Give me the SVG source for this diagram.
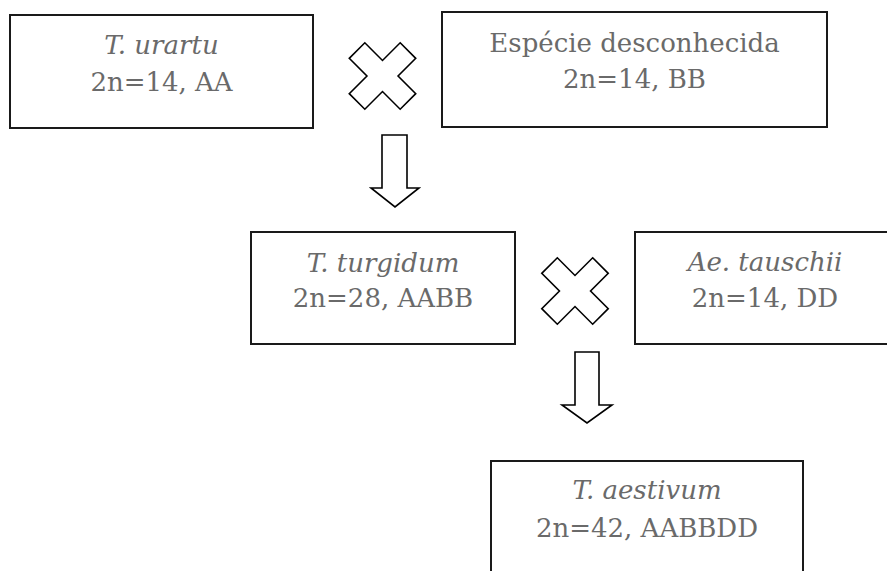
<svg xmlns="http://www.w3.org/2000/svg" width="887" height="571" viewBox="0 0 887 571">
<style>
  .box { fill: #ffffff; stroke: #1a1a1a; stroke-width: 2; }
  .sym { fill: #ffffff; stroke: #000000; stroke-width: 1.6; stroke-linejoin: miter; }
  text { font-family: "DejaVu Serif", "Liberation Serif", serif; font-size: 26px; fill: #6a6a6a; text-anchor: middle; }
  .it { font-style: italic; }
</style>
<defs>
  <polygon id="cross" class="sym" points="-11,-36 11,-36 11,-11 36,-11 36,11 11,11 11,36 -11,36 -11,11 -36,11 -36,-11 -11,-11" transform="rotate(45)"/>
</defs>
<rect width="887" height="571" fill="#ffffff"/>
<g id="n-urartu">
  <rect class="box" x="10" y="15" width="303" height="113"/>
  <text class="it" x="161.5" y="54">T. urartu</text>
  <text x="161.5" y="91">2n=14, AA</text>
</g>
<g id="n-desconhecida">
  <rect class="box" x="442" y="12" width="385" height="115"/>
  <text x="634.5" y="52">Espécie desconhecida</text>
  <text x="634.5" y="88">2n=14, BB</text>
</g>
<g id="n-turgidum">
  <rect class="box" x="251" y="232" width="264" height="112"/>
  <text class="it" x="383" y="272">T. turgidum</text>
  <text x="383" y="307">2n=28, AABB</text>
</g>
<g id="n-tauschii">
  <rect class="box" x="635" y="232" width="262" height="112"/>
  <text class="it" x="765" y="271">Ae. tauschii</text>
  <text x="765" y="307">2n=14, DD</text>
</g>
<g id="n-aestivum">
  <rect class="box" x="491" y="461" width="312" height="130"/>
  <text class="it" x="647" y="499">T. aestivum</text>
  <text x="647" y="537">2n=42, AABBDD</text>
</g>
<g id="connectors">
  <use href="#cross" transform="translate(382.5,76)"/>
  <use href="#cross" transform="translate(575,291)"/>
  <polygon class="sym" points="382,135 407,135 407,188 419,188 395,207 371,188 382,188"/>
  <polygon class="sym" points="575,352 599,352 599,405 612,405 587,423 562,405 575,405"/>
</g>
</svg>
